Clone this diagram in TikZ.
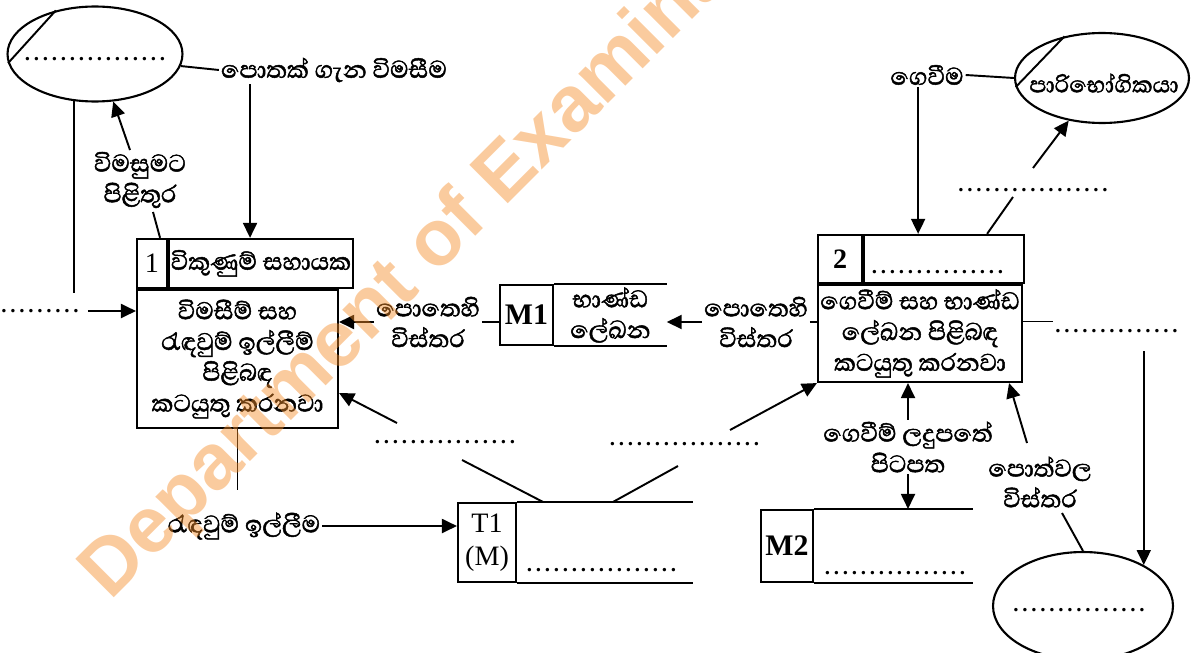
\documentclass[tikz,border=0pt]{standalone}
\usepackage{fontspec}
\setmainfont{Liberation Serif}
\newfontfamily\sinhala[Script=Sinhala, FakeBold=1.6]{Abhaya Libre}
\newfontfamily\wmfont{Liberation Sans}
\usetikzlibrary{arrows.meta,positioning,shapes.geometric}
\definecolor{wmorange}{RGB}{245,140,40}
\newcommand{\dotrow}[1]{\hbox to #1{\leaders\hbox to 0.18cm{\hss.\hss}\hfill}}

\begin{document}
\begin{tikzpicture}[
    x=0.02cm, y=-0.02cm,
    txt/.style={font=\sinhala\fontsize{17.5}{17.5}\selectfont, align=center, inner sep=1pt},
    blank/.style={font=\bfseries\fontsize{12}{12}\selectfont, inner sep=0pt},
    cell/.style={draw, line width=1.2pt, inner sep=0pt},
    extent/.style={draw, ellipse, line width=1.2pt, inner sep=0pt},
    line/.style={line width=1.1pt},
    arr/.style={line, -{Triangle[length=3mm,width=2.8mm]}}
  ]
  \useasboundingbox (0,0) rectangle (1192,652);

  % process 1
  \node[cell, txt, minimum width=4.02cm, minimum height=2.76cm] (p1) at (237.5,359)
    {විමසීම් සහ\\රැඳවුම් ඉල්ලීම්\\පිළිබඳ\\කටයුතු කරනවා};
  \node[cell, minimum width=0.6cm, minimum height=0.98cm, anchor=south west,
    font=\fontsize{16}{17}\selectfont] (p1n) at (p1.north west) {1};
  \node[cell, txt, minimum width=3.42cm, minimum height=0.98cm, anchor=south west]
    (p1t) at (p1n.south east) {විකුණුම් සහායක};

  % process 2
  \node[cell, txt, minimum width=4.08cm, minimum height=1.94cm] (p2) at (920,333.5)
    {ගෙවීම් සහ භාණ්ඩ\\ලේඛන පිළිබඳ\\කටයුතු කරනවා};
  \node[cell, minimum width=0.88cm, minimum height=0.96cm, anchor=south west,
    font=\bfseries\fontsize{16}{17}\selectfont] (p2n) at (p2.north west) {2};
  \node[cell, minimum width=3.2cm, minimum height=0.96cm, anchor=south west]
    (p2t) at (p2n.south east) {};
  \node[blank] (p2name) at (941,272) {\dotrow{2.84cm}};

  % external entities
  \node[extent, minimum width=3.5cm, minimum height=1.9cm] (ext1) at (95,54) {};
  \node[blank] (ext1name) at (95,59) {\dotrow{2.88cm}};
  \draw[line] (ext1.132) -- (ext1.186);

  \node[extent, minimum width=3.48cm, minimum height=1.8cm] (ext2) at (1102,78) {};
  \node[txt, font=\sinhala\fontsize{16.5}{17}\selectfont] (ext2name) at (1104,83) {පාරිභෝගිකයා};
  \draw[line] (ext2.132) -- (ext2.186);

  \node[extent, minimum width=3.6cm, minimum height=2.16cm] (ext3) at (1083,606) {};
  \node[blank] (ext3name) at (1083,610) {\dotrow{2.86cm}};

  % data stores
  \node[cell, minimum width=1.06cm, minimum height=1.2cm,
    font=\bfseries\fontsize{17}{17}\selectfont] (m1) at (526.5,315) {M1};
  \node[txt, minimum width=2.24cm, right=0pt of m1] (m1name) {භාණ්ඩ\\ලේඛන};
  \draw[line] (m1.north east) -- (m1.north east -| m1name.east);
  \draw[line] (m1.south east) -- (m1.south east -| m1name.east);

  \node[cell, minimum width=1.16cm, minimum height=1.58cm, align=center,
    font=\fontsize{16}{19}\selectfont] (t1) at (487,542.5) {T1\\(M)};
  \draw[line] (t1.north east) -- ++(176,0);
  \draw[line] (t1.south east) -- ++(176,0);
  \node[blank] (t1name) at (604,570) {\dotrow{3.16cm}};

  \node[cell, minimum width=1.04cm, minimum height=1.44cm,
    font=\bfseries\fontsize{17}{17}\selectfont] (m2) at (787,546) {M2};
  \draw[line] (m2.north east) -- ++(159,0);
  \draw[line] (m2.south east) -- ++(159,0);
  \node[blank] (m2name) at (895,573) {\dotrow{2.88cm}};

  % flow labels
  \node[txt] (lq) at (334,70) {පොතක් ගැන විමසීම};
  \node[txt] (lr) at (140,180) {විමසුමට\\පිළිතුර};
  \node[blank] (ld) at (42,311) {\dotrow{1.7cm}};
  \node[txt] (lm1) at (428,322) {පොතෙහි\\විස්තර};
  \node[txt] (lm1r) at (756,322) {පොතෙහි\\විස්තර};
  \node[blank] (lt1a) at (449,442) {\dotrow{3.04cm}};
  \node[blank] (lt1b) at (685,444) {\dotrow{3.08cm}};
  \node[txt] (lres) at (244,526) {රැඳවුම් ඉල්ලීම};
  \node[txt] (lpay) at (927,75) {ගෙවීම};
  \node[blank] (lcust) at (1033,190) {\dotrow{3.06cm}};
  \node[blank] (lright) at (1117,331) {\dotrow{2.54cm}};
  \node[txt] (lrec) at (908,447) {ගෙවීම් ලදුපතේ\\පිටපත};
  \node[txt] (lbook) at (1040,482) {පොත්වල\\විස්තර};

  % flows
  \draw[line] (ext1.-8) -- (lq.west);
  \draw[arr] ([xshift=-0.22cm]p1t.north |- lq.south) -- ([xshift=-0.22cm]p1t.north);
  \draw[line] ([xshift=-0.16cm]p1n.north east) -- ([shift={(13,32)}]lr.center);
  \draw[arr] ([shift={(-10,-30)}]lr.center) -- (ext1.-69);
  \draw[line] (ext1.-114) -- ++(0,192);
  \draw[arr] ([xshift=0.06cm]ld.east) -- (ld.east -| p1.west);
  \draw[line] (lm1.east) -- (lm1.east -| m1.west);
  \draw[arr] (lm1.west) -- (lm1.west -| p1.east);
  \draw[line] (lm1r.east) -- (lm1r.east -| p2.west);
  \draw[arr] (lm1r.west) -- (lm1r.west -| m1name.east);
  \draw[line] ([xshift=0.52cm]t1.north east) -- ([shift={(13,18)}]lt1a.center);
  \draw[arr] ([shift={(-52,-19)}]lt1a.center) -- ([shift={(0,34)}]p1.east);
  \draw[line] ([xshift=1.92cm]t1.north east) -- ([shift={(-7,22)}]lt1b.center);
  \draw[arr] ([shift={(45,-14)}]lt1b.center) -- (p2.south west);
  \draw[line] (p1.south) -- ++(0,61);
  \draw[arr] (lres.east) -- (lres.east -| t1.west);
  \draw[line] (lpay.east) -- (ext2.west);
  \draw[arr] ([xshift=-0.52cm]p2t.north |- lpay.south) -- ([xshift=-0.52cm]p2t.north);
  \draw[line] ([xshift=0.86cm]p2t.north) -- ([shift={(-20,7)}]lcust.center);
  \draw[arr] ([shift={(0,-22)}]lcust.center) -- (ext2.-128);
  \draw[line] ([yshift=0.24cm]p2.east) -- ++(30,0);
  \coordinate (c2) at ([yshift=-0.4cm]lright.center);
  \draw[arr] (ext3.34 |- c2) -- (ext3.34);
  \draw[line] (ext3.north) -- ([shift={(22,31)}]lbook.center);
  \draw[arr] ([shift={(-13,-39)}]lbook.center) -- ([xshift=-0.28cm]p2.south east);
  \draw[arr] (lrec.north) -- (lrec.north |- p2.south);
  \draw[arr] (lrec.south) -- (lrec.south |- m2.north);

  % watermark
  \node[anchor=base west, rotate=45, text=wmorange, opacity=0.45, inner sep=0pt,
    font=\wmfont\bfseries\fontsize{45}{45}\selectfont] (wm) at (110,602)
    {Department of Examinations};
\end{tikzpicture}
\end{document}
